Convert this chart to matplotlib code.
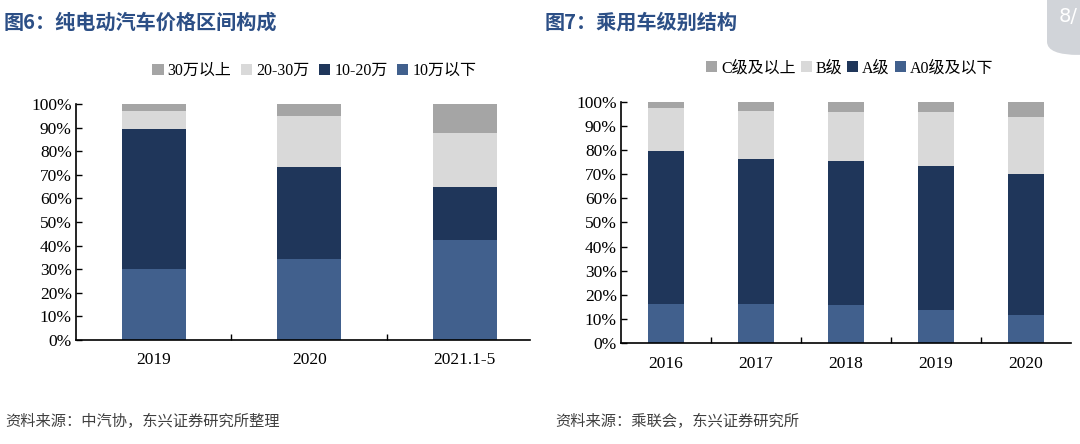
import matplotlib.pyplot as plt
from matplotlib.patches import FancyBboxPatch
from matplotlib.ticker import PercentFormatter

# --- data ---
price_years = ["2019", "2020", "2021.1-5"]
price_below10 = [30.2, 34.3, 42.5]
price_10_20 = [59.3, 38.9, 22.5]
price_20_30 = [7.4, 21.9, 22.6]
price_above30 = [3.1, 4.9, 12.4]
price_labels = ["30万以上", "20-30万", "10-20万", "10万以下"]

class_years = ["2016", "2017", "2018", "2019", "2020"]
class_a0 = [16.3, 16.3, 15.7, 13.8, 11.6]
class_a = [63.4, 60.1, 60.0, 59.8, 58.7]
class_b = [18.0, 19.9, 20.0, 22.1, 23.3]
class_c = [2.3, 3.7, 4.3, 4.3, 6.4]
class_labels = ["C级及以上", "B级", "A级", "A0级及以下"]

COL_TOP = "#a5a5a5"
COL_LIGHT = "#d9d9d9"
COL_DARK = "#1f365a"
COL_BLUE = "#41608d"
TITLE_COL = "#2c4f86"

plt.rcParams["font.family"] = ["Liberation Serif", "Noto Sans CJK SC"]
CJK = ["Noto Sans CJK SC", "DejaVu Sans"]


def stacked(ax, cats, layers, labels, width, xmax, leg_x, colspace):
    x = range(len(cats))
    bottom = [0] * len(cats)
    colors = [COL_BLUE, COL_DARK, COL_LIGHT, COL_TOP]
    handles = []
    for vals, col in zip(layers, colors):
        h = ax.bar(x, vals, width, bottom=bottom, color=col, edgecolor="none")
        handles.append(h)
        bottom = [b + v for b, v in zip(bottom, vals)]
    ax.set_xlim(-0.5, xmax)
    ax.set_ylim(0, 100)
    ax.set_yticks(range(0, 101, 10))
    ax.yaxis.set_major_formatter(PercentFormatter(decimals=0))
    ax.set_xticks(list(x))
    ax.set_xticklabels(cats)
    ax.set_xticks([i + 0.5 for i in range(len(cats) - 1)], minor=True)
    ax.tick_params(axis="x", which="major", length=0, pad=9, labelsize=12.5)
    ax.tick_params(axis="x", which="minor", direction="in", length=4, width=1)
    ax.tick_params(axis="y", direction="in", length=4, width=1,
                   labelsize=12.5, pad=3)
    for s in ["top", "right"]:
        ax.spines[s].set_visible(False)
    for s in ["left", "bottom"]:
        ax.spines[s].set_linewidth(1.2)
    ax.legend(handles[::-1], labels, loc="center",
              bbox_to_anchor=(leg_x, 1.14), ncol=4, frameon=False,
              fontsize=11.5, handlelength=0.7, handleheight=0.7,
              handletextpad=0.25, columnspacing=colspace, borderaxespad=0)


fig = plt.figure(figsize=(10.8, 4.44), dpi=100)

# left: price structure of BEVs
ax1 = fig.add_axes([76 / 1080, 1 - 340 / 444, 454 / 1080, 236 / 444])
stacked(ax1, price_years,
        [price_below10, price_10_20, price_20_30, price_above30],
        price_labels, 0.41, 2.42, 0.525, 0.6)

# right: passenger car class structure
ax2 = fig.add_axes([621 / 1080, 1 - 343 / 444, 450 / 1080, 241 / 444])
stacked(ax2, class_years, [class_a0, class_a, class_b, class_c],
        class_labels, 0.41, 4.5, 0.508, 0.3)

fig.text(4 / 1080, 1 - 22 / 444, "图6：纯电动汽车价格区间构成", fontsize=14.5,
         fontweight="bold", color=TITLE_COL, va="center", family=CJK)
fig.text(545 / 1080, 1 - 22 / 444, "图7：乘用车级别结构", fontsize=14.5,
         fontweight="bold", color=TITLE_COL, va="center", family=CJK)

fig.text(5 / 1080, 1 - 421 / 444, "资料来源：中汽协，东兴证券研究所整理",
         fontsize=11, style="italic", color="#404040", va="center", family=CJK)
fig.text(555 / 1080, 1 - 421 / 444, "资料来源：乘联会，东兴证券研究所",
         fontsize=11, style="italic", color="#404040", va="center", family=CJK)

# page badge
badge = FancyBboxPatch((1047 / 1080, 1 - 55 / 444), 60 / 1080, 80 / 444,
                       boxstyle="round,pad=0,rounding_size=0.03",
                       transform=fig.transFigure, facecolor="#d1d4d9",
                       edgecolor="none", clip_on=False)
fig.patches.append(badge)
fig.text(1068 / 1080, 1 - 16 / 444, "8/", fontsize=14, color="white",
         va="center", ha="center", family=["DejaVu Sans"])

fig.savefig("out.png", dpi=100)
plt.close(fig)
